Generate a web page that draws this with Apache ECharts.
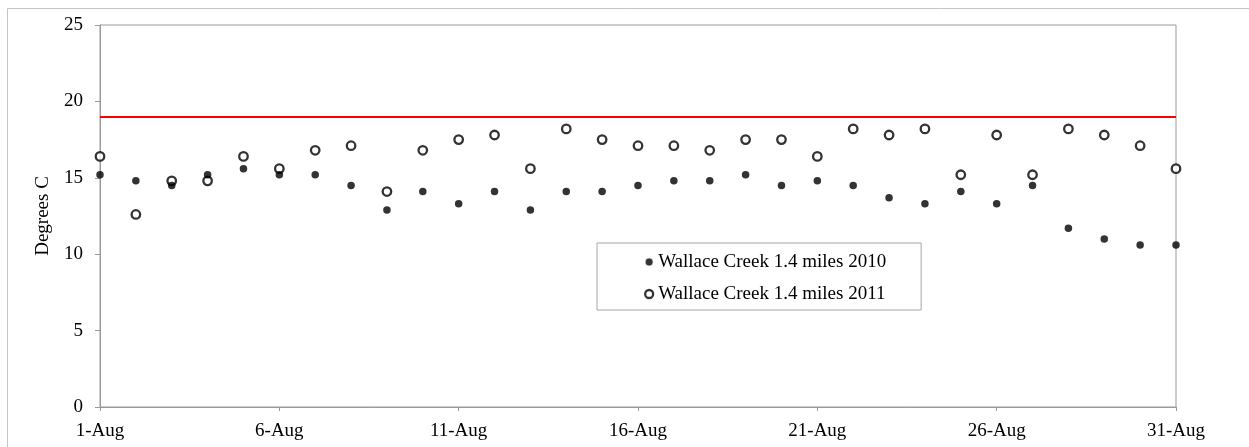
<!DOCTYPE html>
<html>
<head>
<meta charset="utf-8">
<style>
  html, body { margin: 0; padding: 0; background: #ffffff; }
  #chart { width: 1249px; height: 447px; }
</style>
<script src="https://cdn.jsdelivr.net/npm/echarts@6/dist/echarts.min.js"></script>
</head>
<body>
<div id="chart"></div>
<script>
// August days, one category per day
const days = [
  '1-Aug','2-Aug','3-Aug','4-Aug','5-Aug','6-Aug','7-Aug','8-Aug','9-Aug','10-Aug',
  '11-Aug','12-Aug','13-Aug','14-Aug','15-Aug','16-Aug','17-Aug','18-Aug','19-Aug','20-Aug',
  '21-Aug','22-Aug','23-Aug','24-Aug','25-Aug','26-Aug','27-Aug','28-Aug','29-Aug','30-Aug','31-Aug'
];

// Daily water temperature, degrees C
const temps2010 = [
  15.2, 14.8, 14.5, 15.2, 15.6, 15.2, 15.2, 14.5, 12.9, 14.1,
  13.3, 14.1, 12.9, 14.1, 14.1, 14.5, 14.8, 14.8, 15.2, 14.5,
  14.8, 14.5, 13.7, 13.3, 14.1, 13.3, 14.5, 11.7, 11.0, 10.6, 10.6
];
const temps2011 = [
  16.4, 12.6, 14.8, 14.8, 16.4, 15.6, 16.8, 17.1, 14.1, 16.8,
  17.5, 17.8, 15.6, 18.2, 17.5, 17.1, 17.1, 16.8, 17.5, 17.5,
  16.4, 18.2, 17.8, 18.2, 15.2, 17.8, 15.2, 18.2, 17.8, 17.1, 15.6
];

// Temperature threshold line
const threshold = 19;

const seriesNames = ['Wallace Creek 1.4 miles 2010', 'Wallace Creek 1.4 miles 2011'];

const FONT = '"Liberation Serif", "Times New Roman", serif';
const FONT_SIZE = 19;
const AXIS_GREY = '#9a9a9a';

const chart = echarts.init(document.getElementById('chart'), null, { renderer: 'canvas' });

chart.setOption({
  animation: false,
  backgroundColor: '#ffffff',
  textStyle: { fontFamily: FONT },
  graphic: [{
    type: 'rect',
    silent: true,
    shape: { x: 7.5, y: 8.5, width: 1400, height: 600 },
    style: { fill: 'none', stroke: '#c4c4c4', lineWidth: 1 }
  }],
  grid: {
    left: 100, right: 73, top: 25, bottom: 40,
    show: true, borderColor: AXIS_GREY, borderWidth: 1, backgroundColor: 'transparent'
  },
  legend: {
    orient: 'vertical',
    left: 597, top: 243,
    padding: [9, 35, 6, 47],
    itemGap: 12,
    itemWidth: 8, itemHeight: 8,
    borderColor: '#a6a6a6', borderWidth: 1,
    backgroundColor: '#ffffff',
    selectedMode: false,
    textStyle: { fontFamily: FONT, fontSize: FONT_SIZE, color: '#000', lineHeight: 20 },
    data: [
      { name: seriesNames[0], icon: 'circle',
        itemStyle: { color: '#000', borderColor: '#ffffff', borderWidth: 0.8 } },
      { name: seriesNames[1], icon: 'circle',
        itemStyle: { color: '#ffffff', borderColor: '#000', borderWidth: 2.3 } }
    ]
  },
  xAxis: {
    type: 'category',
    data: days,
    boundaryGap: false,
    axisLine: { show: true, lineStyle: { color: AXIS_GREY, width: 1 } },
    axisTick: { show: true, interval: 4, length: 4, lineStyle: { color: AXIS_GREY } },
    axisLabel: { interval: 4, margin: 15, fontFamily: FONT, fontSize: FONT_SIZE, color: '#000' },
    splitLine: { show: false }
  },
  yAxis: {
    type: 'value',
    min: 0, max: 25, interval: 5,
    name: 'Degrees C',
    nameLocation: 'middle',
    nameGap: 47,
    nameTextStyle: { fontFamily: FONT, fontSize: FONT_SIZE, color: '#000' },
    axisLine: { show: true, lineStyle: { color: AXIS_GREY, width: 1 } },
    axisTick: { show: true, length: 5, lineStyle: { color: AXIS_GREY } },
    axisLabel: { margin: 17, fontFamily: FONT, fontSize: FONT_SIZE, color: '#000' },
    splitLine: { show: false }
  },
  series: [
    {
      name: seriesNames[1],
      type: 'scatter',
      z: 2,
      symbol: 'circle',
      symbolSize: 8.5,
      itemStyle: { color: '#ffffff', borderColor: '#000', borderWidth: 2.3 },
      data: temps2011,
      markLine: {
        silent: true,
        symbol: ['none', 'none'],
        label: { show: false },
        lineStyle: { color: '#ff0000', width: 2, type: 'solid' },
        data: [{ yAxis: threshold }]
      }
    },
    {
      name: seriesNames[0],
      type: 'scatter',
      z: 3,
      symbol: 'circle',
      symbolSize: 7.5,
      itemStyle: { color: '#000' },
      data: temps2010
    }
  ]
});
</script>
</body>
</html>
